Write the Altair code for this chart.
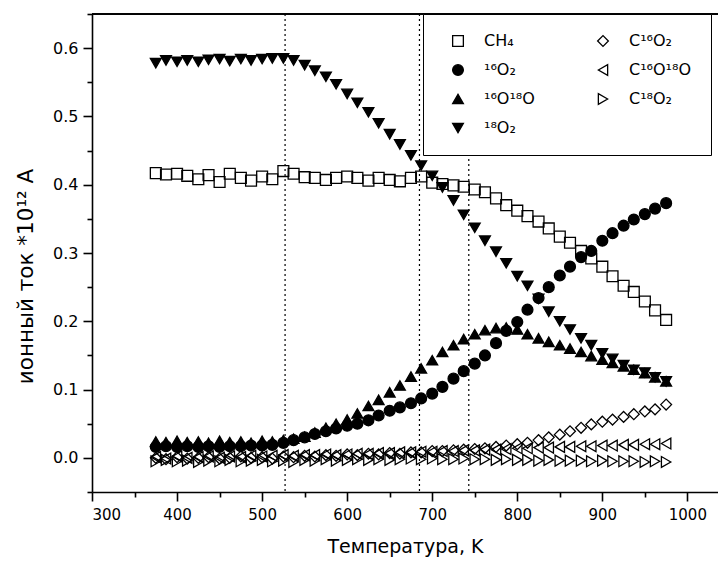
import altair as alt
import pandas as pd

T = [375, 387, 400, 412, 425, 437, 450, 462, 475, 487, 500, 512, 525, 537, 550, 562, 575, 587,
     600, 612, 625, 637, 650, 662, 675, 687, 700, 712, 725, 737, 750, 762, 775, 787, 800, 812,
     825, 837, 850, 862, 875, 887, 900, 912, 925, 937, 950, 962, 975]

ch4 = [0.417, 0.415, 0.416, 0.413, 0.408, 0.414, 0.404, 0.416, 0.410, 0.406, 0.412, 0.408, 0.420,
       0.416, 0.411, 0.410, 0.407, 0.410, 0.412, 0.410, 0.406, 0.410, 0.407, 0.405, 0.410, 0.412,
       0.403, 0.401, 0.399, 0.397, 0.393, 0.389, 0.380, 0.370, 0.362, 0.354, 0.346, 0.336, 0.324,
       0.315, 0.303, 0.292, 0.280, 0.266, 0.252, 0.243, 0.229, 0.216, 0.202]

o16_2 = [0.016, 0.017, 0.016, 0.017, 0.016, 0.017, 0.016, 0.017, 0.017, 0.018, 0.018, 0.019, 0.022,
         0.026, 0.030, 0.035, 0.039, 0.043, 0.047, 0.050, 0.055, 0.062, 0.069, 0.074, 0.080, 0.087,
         0.094, 0.104, 0.116, 0.127, 0.138, 0.150, 0.168, 0.186, 0.199, 0.217, 0.234, 0.250, 0.267,
         0.280, 0.294, 0.303, 0.318, 0.329, 0.340, 0.349, 0.357, 0.365, 0.373]

o16o18 = [0.024, 0.023, 0.025, 0.023, 0.024, 0.022, 0.025, 0.023, 0.024, 0.022, 0.025, 0.024, 0.026,
          0.028, 0.031, 0.037, 0.044, 0.050, 0.056, 0.065, 0.076, 0.085, 0.096, 0.106, 0.119, 0.131,
          0.143, 0.155, 0.165, 0.174, 0.181, 0.187, 0.190, 0.191, 0.188, 0.181, 0.175, 0.170, 0.165,
          0.160, 0.155, 0.149, 0.144, 0.139, 0.134, 0.129, 0.124, 0.118, 0.112]

o18_2 = [0.578, 0.582, 0.580, 0.582, 0.580, 0.583, 0.584, 0.581, 0.584, 0.582, 0.584, 0.585, 0.585,
         0.582, 0.575, 0.567, 0.558, 0.547, 0.533, 0.520, 0.506, 0.490, 0.474, 0.459, 0.443, 0.428,
         0.413, 0.396, 0.377, 0.356, 0.337, 0.318, 0.302, 0.285, 0.266, 0.252, 0.233, 0.214, 0.200,
         0.188, 0.175, 0.165, 0.153, 0.145, 0.136, 0.129, 0.125, 0.118, 0.112]

c16o2 = [0.000, -0.002, 0.001, -0.001, 0.000, 0.001, -0.001, 0.000, 0.002, 0.000, 0.001, -0.001, 0.002,
         0.001, 0.003, 0.002, 0.004, 0.003, 0.005, 0.004, 0.006, 0.005, 0.007, 0.006, 0.008, 0.008,
         0.010, 0.010, 0.011, 0.012, 0.013, 0.014, 0.016, 0.018, 0.020, 0.022, 0.026, 0.030, 0.034,
         0.039, 0.044, 0.049, 0.053, 0.056, 0.060, 0.064, 0.068, 0.071, 0.078]

c16o18o = [0.001, -0.001, 0.002, 0.000, 0.001, 0.002, 0.000, 0.002, 0.001, 0.003, 0.002, 0.003, 0.004,
           0.003, 0.004, 0.004, 0.005, 0.004, 0.005, 0.006, 0.006, 0.007, 0.007, 0.008, 0.008, 0.009,
           0.009, 0.010, 0.010, 0.011, 0.011, 0.012, 0.012, 0.013, 0.014, 0.014, 0.015, 0.015, 0.016,
           0.016, 0.017, 0.017, 0.018, 0.018, 0.019, 0.019, 0.020, 0.020, 0.021]

c18o2 = [-0.005, -0.003, -0.005, -0.004, -0.006, -0.004, -0.005, -0.003, -0.005, -0.004, -0.003, -0.005,
         -0.004, -0.006, -0.003, -0.004, -0.002, -0.004, -0.003, -0.002, -0.003, -0.002, -0.003, -0.002,
         -0.001, -0.002, -0.001, -0.002, -0.002, -0.001, -0.002, -0.002, -0.003, -0.002, -0.003, -0.003,
         -0.004, -0.003, -0.004, -0.004, -0.004, -0.005, -0.004, -0.005, -0.005, -0.005, -0.006, -0.005,
         -0.006]

vlines = [527, 685, 743]

# legend order (fills column by column, 2 columns)
order = ["CH₄", "¹⁶O₂", "¹⁶O¹⁸O", "¹⁸O₂", "C¹⁶O₂", "C¹⁶O¹⁸O", "C¹⁸O₂"]
shapes = ["square", "circle", "triangle-up", "triangle-down", "diamond", "triangle-left", "triangle-right"]
fills = ["transparent", "black", "black", "black", "transparent", "transparent", "transparent"]
strokes = ["black"] * 7

series = {
    "C¹⁸O₂": c18o2,
    "C¹⁶O¹⁸O": c16o18o,
    "C¹⁶O₂": c16o2,
    "CH₄": ch4,
    "¹⁶O₂": o16_2,
    "¹⁶O¹⁸O": o16o18,
    "¹⁸O₂": o18_2,
}

rows = []
for name, vals in series.items():
    for t, v in zip(T, vals):
        rows.append({"T": t, "value": v, "series": name})
df = pd.DataFrame(rows)
vdf = pd.DataFrame({"T": vlines})

W, H = 626, 478
FONT = "DejaVu Sans"

xscale = alt.Scale(domain=[300, 1036], nice=False, zero=False)
yscale = alt.Scale(domain=[-0.05, 0.65], nice=False, zero=False)

xvals = [300, 350, 400, 450, 500, 550, 600, 650, 700, 750, 800, 850, 900, 950, 1000]
yvals = [-0.05, 0.0, 0.05, 0.1, 0.15, 0.2, 0.25, 0.3, 0.35, 0.4, 0.45, 0.5, 0.55, 0.6, 0.65]

xaxis = alt.Axis(
    values=xvals, title="Температура, K",
    labelExpr="datum.value % 100 == 0 ? format(datum.value, 'd') : ''",
    tickSize={"condition": {"test": "datum.value % 100 == 0", "value": 9}, "value": 5},
    grid=False, domainColor="black", domainWidth=1.6, tickColor="black", tickWidth=1.6,
    labelFont=FONT, labelFontSize=15, labelColor="black", labelPadding=6,
    titleFont=FONT, titleFontSize=19, titleFontWeight="normal", titleColor="black", titlePadding=15,
)
yaxis = alt.Axis(
    values=yvals, title="ионный ток *10¹² A",
    labelExpr="abs(round(datum.value*100)) % 10 == 0 ? format(datum.value, '.1f') : ''",
    tickSize={"condition": {"test": "abs(round(datum.value*100)) % 10 == 0", "value": 9}, "value": 5},
    grid=False, domainColor="black", domainWidth=1.6, tickColor="black", tickWidth=1.6,
    labelFont=FONT, labelFontSize=16, labelColor="black", labelPadding=5,
    titleFont=FONT, titleFontSize=21.5, titleFontWeight="normal", titleColor="black", titlePadding=15,
    titleY=262,
)

legend = alt.Legend(
    title=None, orient="none", legendX=331, legendY=0, columns=2,
    fillColor="white", strokeColor="black", padding=19, rowPadding=13, columnPadding=52,
    symbolOffset=8, symbolSize=115, symbolStrokeColor="black", symbolStrokeWidth=1.3,
    labelFont=FONT, labelFontSize=16, labelColor="black", labelOffset=18,
)

points = alt.Chart(df).mark_point(size=118, strokeWidth=1.3, opacity=1, filled=False).encode(
    x=alt.X("T:Q", scale=xscale, axis=xaxis),
    y=alt.Y("value:Q", scale=yscale, axis=yaxis),
    shape=alt.Shape("series:N", scale=alt.Scale(domain=order, range=shapes), legend=legend),
    fill=alt.Fill("series:N", scale=alt.Scale(domain=order, range=fills), legend=legend),
    stroke=alt.Stroke("series:N", scale=alt.Scale(domain=order, range=strokes), legend=legend),
)

rules = alt.Chart(vdf).mark_rule(color="black", strokeWidth=1.2, strokeDash=[2, 3]).encode(
    x=alt.X("T:Q", scale=xscale),
)

top = alt.Chart(vdf).mark_rule(color="black", strokeWidth=1.6).encode(
    x=alt.value(0), x2=alt.value(W), y=alt.value(0)
)

chart = alt.layer(rules, top, points).properties(
    width=W, height=H,
    autosize=alt.AutoSizeParams(type="none"),
    padding={"left": 84, "top": 6, "right": 0, "bottom": 70},
).configure_view(stroke=None).configure(background="white")

chart.save("out.html", embed_options={"renderer": "svg", "actions": False})
